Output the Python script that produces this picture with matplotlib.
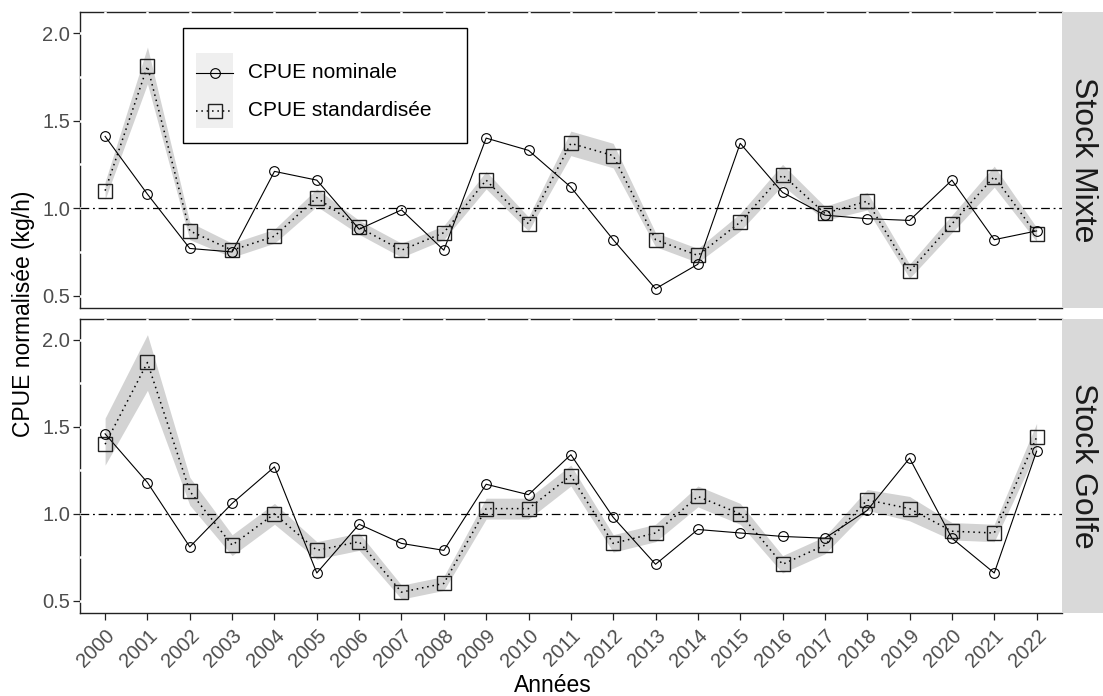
import numpy as np
import matplotlib
matplotlib.use("Agg")
import matplotlib.pyplot as plt
from matplotlib.patches import Rectangle
from matplotlib.lines import Line2D

plt.rcParams["font.family"] = ["Liberation Sans", "DejaVu Sans"]

years = list(range(2000, 2023))

# Stock Mixte
mixte_nominale = [1.41, 1.08, 0.77, 0.75, 1.21, 1.16, 0.88, 0.99, 0.76, 1.40, 1.33, 1.12,
                  0.82, 0.54, 0.68, 1.37, 1.09, 0.96, 0.94, 0.93, 1.16, 0.82, 0.87]
mixte_std = [1.10, 1.81, 0.87, 0.76, 0.84, 1.06, 0.89, 0.76, 0.86, 1.16, 0.91, 1.37,
             1.30, 0.82, 0.73, 0.92, 1.19, 0.97, 1.04, 0.64, 0.91, 1.18, 0.85]
mixte_low = [1.05, 1.71, 0.82, 0.72, 0.80, 1.01, 0.85, 0.72, 0.82, 1.11, 0.87, 1.30,
             1.23, 0.78, 0.69, 0.87, 1.13, 0.93, 0.99, 0.60, 0.86, 1.12, 0.81]
mixte_high = [1.15, 1.92, 0.92, 0.80, 0.88, 1.11, 0.93, 0.80, 0.90, 1.21, 0.95, 1.44,
              1.37, 0.86, 0.77, 0.97, 1.25, 1.01, 1.09, 0.68, 0.96, 1.24, 0.89]

# Stock Golfe
golfe_nominale = [1.46, 1.18, 0.81, 1.06, 1.27, 0.66, 0.94, 0.83, 0.79, 1.17, 1.11, 1.34,
                  0.98, 0.71, 0.91, 0.89, 0.87, 0.86, 1.02, 1.32, 0.86, 0.66, 1.36]
golfe_std = [1.40, 1.87, 1.13, 0.82, 1.00, 0.79, 0.84, 0.55, 0.60, 1.03, 1.03, 1.22,
             0.83, 0.89, 1.10, 1.00, 0.71, 0.82, 1.08, 1.03, 0.90, 0.89, 1.44]
golfe_low = [1.28, 1.71, 1.05, 0.76, 0.94, 0.74, 0.79, 0.51, 0.56, 0.97, 0.97, 1.16,
             0.78, 0.84, 1.04, 0.94, 0.66, 0.77, 1.02, 0.96, 0.85, 0.84, 1.36]
golfe_high = [1.55, 2.03, 1.21, 0.88, 1.06, 0.84, 0.89, 0.59, 0.64, 1.09, 1.09, 1.28,
              0.88, 0.94, 1.16, 1.06, 0.76, 0.87, 1.14, 1.10, 0.95, 0.94, 1.52]

panels = [
    ("Stock Mixte", mixte_nominale, mixte_std, mixte_low, mixte_high),
    ("Stock Golfe", golfe_nominale, golfe_std, golfe_low, golfe_high),
]

W, H = 1103, 696
fig = plt.figure(figsize=(W / 100, H / 100), dpi=100)

# panel boxes in pixels: left, top, right, bottom
px_left, px_right = 79.7, 1062
boxes = [(12, 308), (319, 613)]

ribbon_col = "#D3D3D3"
tick_col = "#4D4D4D"
axis_col = "#222222"
x = np.arange(len(years))

axes = []
for i, (name, nom, std, lo, hi) in enumerate(panels):
    top, bot = boxes[i]
    ax = fig.add_axes([px_left / W, 1 - bot / H, (px_right - px_left) / W, (bot - top) / H])
    axes.append(ax)

    ax.set_xlim(-0.6, len(years) - 1 + 0.6)
    ax.set_ylim(0.43, 2.12)

    # white grid, drawn over the frame but under the data
    for xi in x:
        ax.axvline(xi, color="white", lw=1.8, zorder=2.6)
    for yv in np.arange(0.5, 2.01, 0.25):
        ax.axhline(yv, color="white", lw=1.8, zorder=2.6)

    ax.fill_between(x, lo, hi, color=ribbon_col, lw=0, zorder=3)
    ax.axhline(1.0, color="black", lw=0.9, dashes=(7, 3, 1.5, 3), zorder=3.5)
    ax.plot(x, std, color="black", lw=1.1, ls=(0, (1, 2.5)), zorder=4)
    ax.plot(x, nom, color="black", lw=0.8, zorder=4)
    ax.plot(x, std, ls="none", marker="s", ms=9.5, mfc="none", mec="#222222", mew=1.0, zorder=5)
    ax.plot(x, nom, ls="none", marker="o", ms=7, mfc="none", mec="black", mew=0.8, zorder=5)

    ax.spines["right"].set_visible(False)
    for side in ["left", "top", "bottom"]:
        ax.spines[side].set_color(axis_col)
        ax.spines[side].set_linewidth(1.0)
    ax.spines["bottom"].set_zorder(3)

    ax.set_yticks([0.5, 1.0, 1.5, 2.0])
    ax.set_yticklabels(["0.5", "1.0", "1.5", "2.0"])
    ax.tick_params(axis="y", colors=axis_col, labelcolor=tick_col, labelsize=14.5,
                   length=5, width=0.9, pad=2)
    ax.set_xticks(x)
    if i == 0:
        ax.tick_params(axis="x", length=0, labelbottom=False)
    else:
        ax.set_xticklabels([str(y) for y in years], rotation=45, ha="right",
                           va="top", rotation_mode="anchor")
        ax.tick_params(axis="x", colors=axis_col, labelcolor=tick_col, labelsize=14.5,
                       length=5, width=0.9, pad=4)

    # facet strip on the right
    sax = fig.add_axes([px_right / W, 1 - bot / H, (W - px_right) / W, (bot - top) / H])
    sax.set_facecolor("#D9D9D9")
    sax.set_xticks([])
    sax.set_yticks([])
    for s in sax.spines.values():
        s.set_visible(False)
    sax.text(0.52, 0.5, name, rotation=270, ha="center", va="center",
             fontsize=23, color="#1A1A1A", transform=sax.transAxes)

# legend box in the top panel, placed in pixel positions
ax0 = axes[0]
top0, bot0 = boxes[0]


def to_ax(px, py):
    return ((px - px_left) / (px_right - px_left), (bot0 - py) / (bot0 - top0))


x0, y0 = to_ax(183, 143)
x1, y1 = to_ax(467, 28)
ax0.add_patch(Rectangle((x0, y0), x1 - x0, y1 - y0, transform=ax0.transAxes,
                        facecolor="white", edgecolor="black", lw=1.0, zorder=10))
kx0, ky0 = to_ax(196, 128)
kx1, ky1 = to_ax(233, 53)
ax0.add_patch(Rectangle((kx0, ky0), kx1 - kx0, ky1 - ky0, transform=ax0.transAxes,
                        facecolor="#EFEFEF", edgecolor="none", zorder=11))
kxm = (kx0 + kx1) / 2
_, r1 = to_ax(0, 73)
_, r2 = to_ax(0, 111)
ax0.add_line(Line2D([kx0, kx1], [r1, r1], color="black", lw=0.8,
                    transform=ax0.transAxes, zorder=12))
ax0.add_line(Line2D([kxm], [r1], marker="o", ms=7, mfc="none", mec="black", mew=0.8,
                    transform=ax0.transAxes, zorder=12))
ax0.add_line(Line2D([kx0, kx1], [r2, r2], color="black", lw=1.1, ls=(0, (1, 2.5)),
                    transform=ax0.transAxes, zorder=12))
ax0.add_line(Line2D([kxm], [r2], marker="s", ms=9.5, mfc="none", mec="#222222", mew=1.0,
                    transform=ax0.transAxes, zorder=12))
tx, _ = to_ax(248, 0)
ax0.text(tx, r1, "CPUE nominale", transform=ax0.transAxes, fontsize=15,
         va="center", ha="left", color="black", zorder=12)
ax0.text(tx, r2, "CPUE standardisée", transform=ax0.transAxes, fontsize=15,
         va="center", ha="left", color="black", zorder=12)

fig.text(24 / W, 1 - 314 / H, "CPUE normalisée (kg/h)", rotation=90,
         ha="center", va="center", fontsize=16.5, color="black")
fig.text(553 / W, 1 - 685 / H, "Années", ha="center", va="center",
         fontsize=16.5, color="black")

fig.savefig("out.png", dpi=100)
